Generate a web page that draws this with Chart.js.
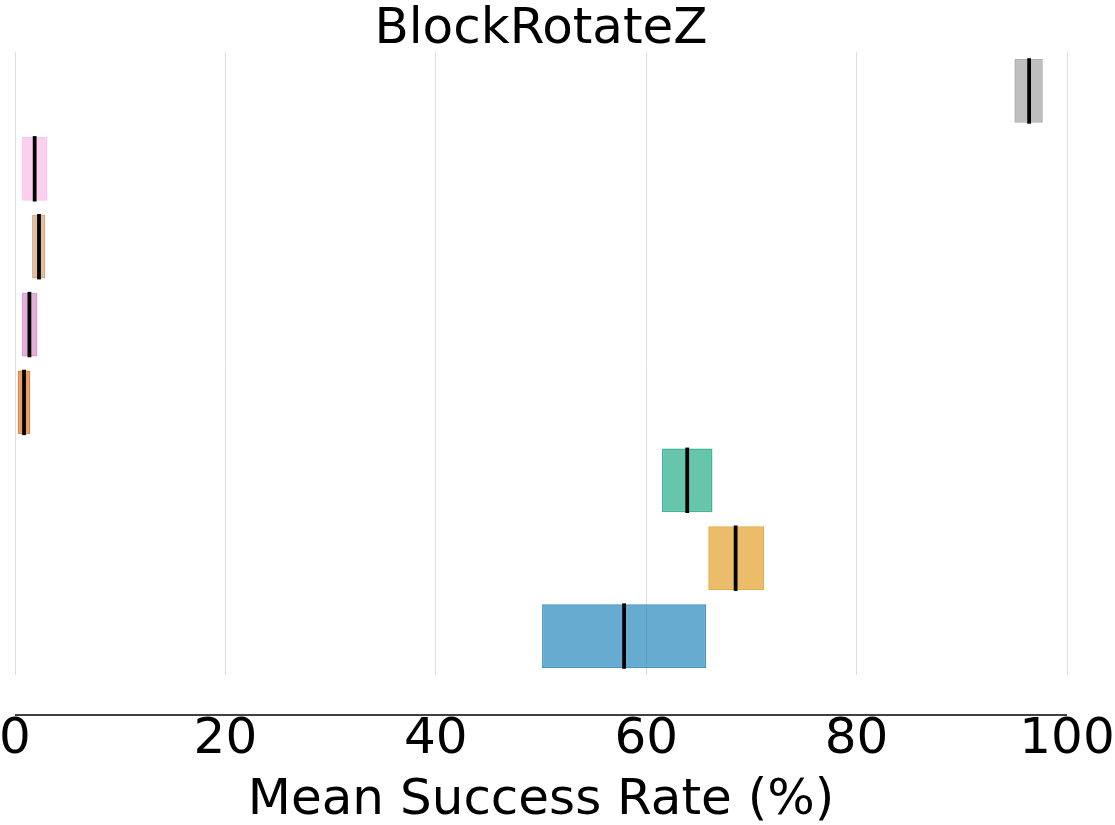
<!DOCTYPE html>
<html lang="en">
  <head>
    <meta charset="UTF-8">
    <title>BlockRotateZ</title>
    <script src="https://cdn.jsdelivr.net/npm/chart.js@4.4.7/dist/chart.umd.min.js"></script>
    <style>
    html, body { margin: 0; padding: 0; background: #fff; }
    #wrap { width: 1115px; height: 825px; }
    </style>
  </head>
  <body>
    <div id="wrap"><canvas id="chart" width="1115" height="825"></canvas></div>
    <script>
    // one row per method, top to bottom
    const methods = ['m1', 'm2', 'm3', 'm4', 'm5', 'm6', 'm7', 'm8'];
    const lows    = [95.0, 0.67, 1.62, 0.64, 0.26, 61.5, 65.9, 50.1];
    const highs   = [97.7, 3.08, 2.89, 2.13, 1.46, 66.3, 71.2, 65.7];
    const medians = [96.4, 1.87, 2.28, 1.37, 0.86, 63.9, 68.5, 57.9];
    const colors  = ['148,148,148', '251,175,228', '202,145,97', '204,120,188',
                     '213,94,0', '2,158,115', '222,143,5', '1,115,178'];
    const xTicks  = [0, 20, 40, 60, 80, 100];

    const medianHalf = 0.18;

    // spine drawn below the plot, offset like the original figure
    const offsetAxis = {
      id: 'offsetAxis',
      afterDraw(chart) {
        const x = chart.scales.x;
        const y = chart.chartArea.bottom + 40;
        const c = chart.ctx;
        c.save();
        c.strokeStyle = '#000';
        c.lineWidth = 1.5;
        c.beginPath();
        c.moveTo(x.getPixelForValue(0), y);
        c.lineTo(x.getPixelForValue(100), y);
        c.stroke();
        c.restore();
      }
    };

    const ctx = document.getElementById('chart').getContext('2d');
    new Chart(ctx, {
      type: 'bar',
      data: {
        labels: methods,
        datasets: [
          {
            label: 'median',
            data: medians.map(m => [m - medianHalf, m + medianHalf]),
            backgroundColor: '#000',
            borderWidth: 0,
            borderSkipped: false,
            grouped: false,
            barPercentage: 0.84,
            categoryPercentage: 1,
            order: 0
          },
          {
            label: 'interval',
            data: lows.map((l, i) => [l, highs[i]]),
            backgroundColor: colors.map(c => 'rgba(' + c + ',0.6)'),
            borderColor: colors.map(c => 'rgba(' + c + ',0.75)'),
            borderWidth: 1.5,
            borderSkipped: false,
            grouped: false,
            barPercentage: 0.82,
            categoryPercentage: 1,
            order: 1
          }
        ]
      },
      options: {
        indexAxis: 'y',
        responsive: false,
        animation: false,
        layout: { padding: { left: 15, right: 48, top: 0, bottom: -6 } },
        plugins: {
          legend: { display: false },
          tooltip: { enabled: false },
          title: {
            display: true,
            text: 'BlockRotateZ',
            color: '#000',
            font: { family: 'DejaVu Sans', size: 50, weight: 'normal' },
            padding: { top: 0, bottom: -8 }
          }
        },
        scales: {
          x: {
            type: 'linear',
            min: 0,
            max: 100,
            afterBuildTicks: (s) => { s.ticks = xTicks.map(v => ({ value: v })); },
            afterFit: (s) => { s.paddingLeft = 0; s.paddingRight = 0; },
            grid: { color: '#dddddd', lineWidth: 1, drawTicks: false },
            border: { display: false },
            ticks: {
              color: '#000',
              padding: 35,
              font: { family: 'DejaVu Sans', size: 50 }
            },
            title: {
              display: true,
              text: 'Mean Success Rate (%)',
              color: '#000',
              font: { family: 'DejaVu Sans', size: 50 },
              padding: { top: -34, bottom: 0 }
            }
          },
          y: {
            display: false
          }
        }
      },
      plugins: [offsetAxis]
    });
    </script>
  </body>
</html>
